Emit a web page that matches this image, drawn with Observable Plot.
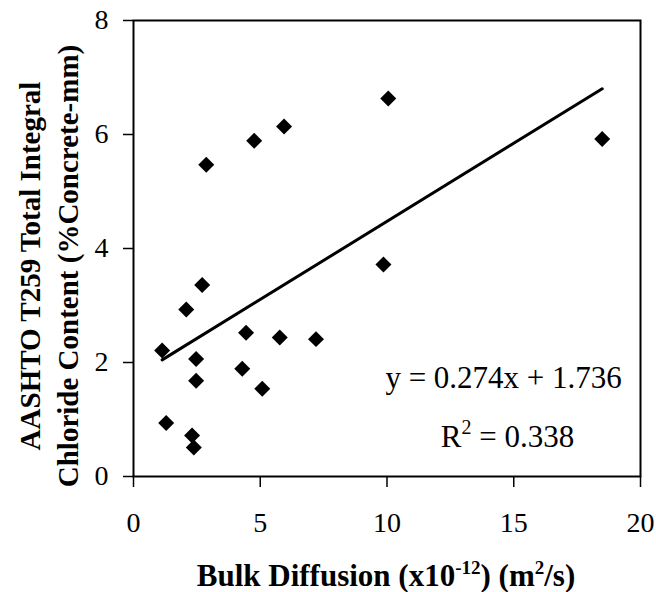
<!DOCTYPE html>
<html><head><meta charset="utf-8">
<script src="https://cdn.jsdelivr.net/npm/d3@7"></script>
<script src="https://cdn.jsdelivr.net/npm/@observablehq/plot@0.6"></script>
<style>body{margin:0;background:#fff} svg{display:block}</style>
</head><body><div id="chart"></div>
<script>
// Bulk diffusion (x10^-12 m^2/s)
const diffusion = [1.13, 1.29, 2.08, 2.31, 2.38, 2.47, 2.47, 2.71, 2.87, 4.29, 4.44, 4.76, 5.08, 5.77, 5.94, 7.20, 9.86, 10.05, 18.49];
// AASHTO T259 total integral chloride content (%Concrete-mm)
const chloride  = [2.21, 0.94, 2.93, 0.72, 0.51, 2.06, 1.68, 3.36, 5.47, 1.89, 2.52, 5.89, 1.54, 2.44, 6.14, 2.41, 3.72, 6.63, 5.92];
const xTicks = [0, 5, 10, 15, 20];
const yTicks = [0, 2, 4, 6, 8];
const slope = 0.274;
const intercept = 1.736;
const eqLines = ["y = 0.274x + 1.736", "R2 = 0.338"];
const eqX = [14.6, 14.75];
const eqY = [1.72, 0.70];

const points = diffusion.map((d, i) => ({x: d, y: chloride[i]}));
const xr = [d3.min(diffusion), d3.max(diffusion)];
const fit = xr.map(x => ({x, y: slope * x + intercept}));
const eq = eqLines.map((t, i) => ({t, x: eqX[i], y: eqY[i]}));

const plot = Plot.plot({
  width: 656, height: 592,
  marginLeft: 133, marginRight: 16, marginTop: 20, marginBottom: 116,
  style: {fontFamily: "'Liberation Serif', 'Times New Roman', serif", fontSize: "28px", color: "black", background: "white"},
  x: {domain: [0, 20]},
  y: {domain: [0, 8]},
  marks: [
    Plot.axisX({ticks: xTicks, tickSize: 11, tickPadding: 25, label: null, strokeWidth: 1.5}),
    Plot.axisY({ticks: yTicks, tickSize: 10, tickPadding: 15, label: null, strokeWidth: 1.5}),
    Plot.frame({stroke: "black", strokeWidth: 2}),
    Plot.line(fit, {x: "x", y: "y", stroke: "black", strokeWidth: 3}),
    Plot.dot(points, {x: "x", y: "y", symbol: "diamond2", r: 7.2, fill: "black", stroke: "none"}),
    Plot.text(eq, {x: "x", y: "y", text: "t", fontSize: 31, fill: "black", textAnchor: "middle"})
  ]
});
document.getElementById("chart").appendChild(plot);

const svg = d3.select(plot);
// superscript for R^2 in the trendline label
svg.selectAll("text").filter(function() { return this.textContent === eqLines[1]; })
  .each(function() {
    const t = d3.select(this);
    t.text(null);
    t.append("tspan").text("R");
    t.append("tspan").attr("font-size", 20).attr("dy", -13).text("2");
    t.append("tspan").attr("dy", 13).text(" = 0.338");
  });

const serif = "'Liberation Serif', 'Times New Roman', serif";
const xt = svg.append("text")
  .attr("x", 386).attr("y", 586)
  .attr("text-anchor", "middle")
  .attr("font-family", serif).attr("font-weight", "bold").attr("font-size", 31).attr("fill", "black");
xt.append("tspan").text("Bulk Diffusion (x10");
xt.append("tspan").attr("font-size", 19).attr("dy", -12).text("-12");
xt.append("tspan").attr("dy", 12).text(") (m");
xt.append("tspan").attr("font-size", 19).attr("dy", -12).text("2");
xt.append("tspan").attr("dy", 12).text("/s)");

const yg = svg.append("g").attr("transform", "translate(0,266) rotate(-90)")
  .attr("font-family", serif).attr("font-weight", "bold").attr("font-size", 29).attr("fill", "black")
  .attr("text-anchor", "middle");
yg.append("text").attr("x", 0).attr("y", 40).text("AASHTO T259 Total Integral");
yg.append("text").attr("x", 0).attr("y", 78).text("Chloride Content (%Concrete-mm)");
</script>
</body></html>
